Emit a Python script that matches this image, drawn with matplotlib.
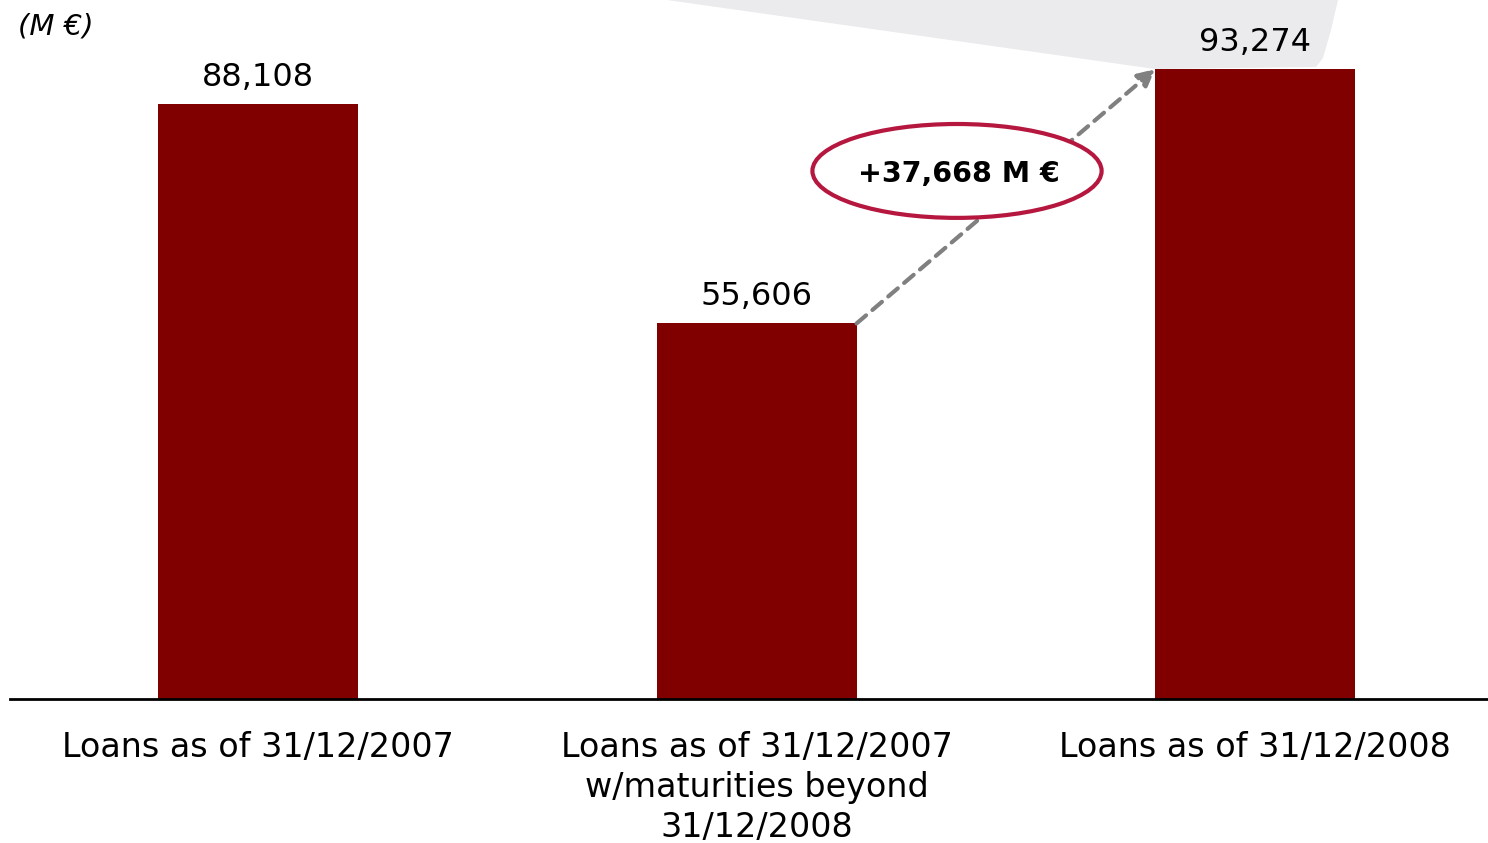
import matplotlib
matplotlib.use('Agg')
import matplotlib.pyplot as plt
from matplotlib.patches import Ellipse, Polygon

# Loans data (M EUR)
categories = ['Loans as of 31/12/2007',
              'Loans as of 31/12/2007\nw/maturities beyond\n31/12/2008',
              'Loans as of 31/12/2008']
values = [88108, 55606, 93274]
value_labels = ['88,108', '55,606', '93,274']
change_label = '+37,668 M €'

bar_color = '#800000'
w = 0.401

fig = plt.figure(figsize=(14.88, 8.43), dpi=100)
ax = fig.add_axes([0.0067, 0.1708, 0.9933, 0.8292])

# light grey wedge in the background
wedge = Polygon([(667 / 1488, 1.0), (1338 / 1488, 1.0), (1331 / 1488, 1 - 30 / 843),
                 (1323 / 1488, 1 - 58 / 843), (1316 / 1488, 1 - 67 / 843),
                 (1155 / 1488, 1 - 69 / 843)],
                closed=True, transform=fig.transFigure, facecolor='#ebebee',
                edgecolor='none', zorder=-1)
fig.patches.append(wedge)
ax.patch.set_alpha(0)

x = list(range(len(values)))
ax.bar(x, values, width=w, color=bar_color, zorder=2)

for xi, v, lab in zip(x, values, value_labels):
    ax.text(xi, v + 2700, lab, ha='center', va='baseline', fontsize=23,
            family='DejaVu Sans')

# dashed arrow from 2nd bar to 3rd bar
ax.annotate('', xy=(2 - w / 2, values[2]), xytext=(1 + w / 2, values[1]),
            arrowprops=dict(arrowstyle='-|>', color='#808080', lw=3,
                            linestyle=(0, (3, 2)), mutation_scale=25,
                            shrinkA=0, shrinkB=0), zorder=3)

ell = Ellipse((1.402, 78190), 0.58, 13900, facecolor='white',
              edgecolor='#b5173f', lw=3, zorder=4)
ax.add_patch(ell)
ax.text(1.405, 77800, change_label, ha='center', va='center', fontsize=20.5,
        fontweight='bold', zorder=5)

ax.set_xlim(-0.4975, 2.467)
ax.set_ylim(0, 103500)
ax.set_xticks(x)
ax.set_xticklabels(categories, fontsize=24, linespacing=1.27)
ax.tick_params(axis='x', length=0, pad=23)
ax.set_yticks([])
for s in ['top', 'right', 'left']:
    ax.spines[s].set_visible(False)
ax.spines['bottom'].set_linewidth(2)

fig.text(18 / 1488, 1 - 27 / 843, '(M €)', fontsize=21, style='italic',
         va='center', ha='left')

fig.savefig('out.png', dpi=100)
